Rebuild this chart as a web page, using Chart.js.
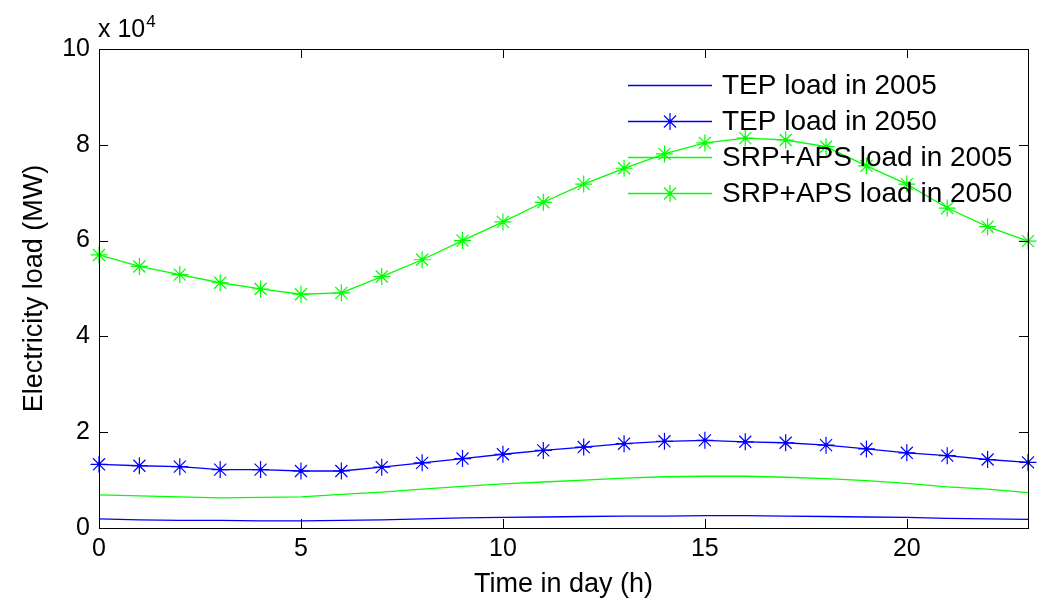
<!DOCTYPE html>
<html>
<head>
<meta charset="utf-8">
<title>Electricity load</title>
<script src="https://cdn.jsdelivr.net/npm/chart.js@4/dist/chart.umd.min.js"></script>
<style>
    body { margin: 0; background: #fff; }
    #wrap { width: 1041px; height: 604px; }
</style>
</head>
<body>
<div id="wrap"><canvas id="loadChart" width="1041" height="604"></canvas></div>
<script>
// Hourly loads (MW)
const hours = [0, 1, 2, 3, 4, 5, 6, 7, 8, 9, 10, 11, 12, 13, 14, 15, 16, 17, 18, 19, 20, 21, 22, 23];

const tep2005 = [1900, 1700, 1600, 1600, 1500, 1500, 1600, 1700, 1900, 2100, 2200, 2300,
                 2400, 2500, 2500, 2600, 2600, 2500, 2400, 2300, 2200, 2000, 1900, 1800];
const tep2050 = [13300, 13000, 12800, 12200, 12200, 11900, 11900, 12700, 13600, 14500, 15400, 16200,
                 16900, 17600, 18100, 18300, 18000, 17800, 17300, 16500, 15700, 15100, 14300, 13700];
const srp2005 = [6900, 6700, 6500, 6300, 6400, 6500, 7000, 7500, 8100, 8700, 9200, 9600,
                 10000, 10400, 10700, 10800, 10800, 10600, 10300, 9900, 9300, 8600, 8100, 7400];
const srp2050 = [57000, 54600, 52900, 51200, 49900, 48800, 49100, 52500, 56000, 60000, 63900, 68000,
                 71800, 75100, 78100, 80400, 81400, 81000, 79600, 75600, 71800, 66800, 62900, 59900];

const seriesLabels = ['TEP load in 2005', 'TEP load in 2050', 'SRP+APS load in 2005', 'SRP+APS load in 2050'];
const xTitle = 'Time in day (h)';
const yTitle = 'Electricity load (MW)';
const yExponent = '4';

const BLUE = '#0000ff';
const GREEN = '#00ff00';
const FONT = "'Liberation Sans', Arial, sans-serif";

function toPoints(values) {
    return hours.map((h, i) => ({ x: h, y: values[i] }));
}

function lineSet(label, values, color, star) {
    return {
        label: label,
        data: toPoints(values),
        borderColor: color,
        backgroundColor: color,
        borderWidth: 1.3,
        tension: 0,
        pointStyle: star ? 'star' : 'circle',
        pointRadius: star ? 8.5 : 0,
        pointBorderWidth: 1.2,
        pointBorderColor: color,
        clip: false,
        star: star
    };
}

// MATLAB-style frame with inward ticks on all four sides
const framePlugin = {
    id: 'frame',
    afterDraw(chart) {
        const { ctx, chartArea: a, scales } = chart;
        const len = 9;
        ctx.save();
        ctx.strokeStyle = '#000';
        ctx.lineWidth = 1;
        ctx.strokeRect(Math.round(a.left) + 0.5, Math.round(a.top) + 0.5,
                       Math.round(a.right - a.left), Math.round(a.bottom - a.top));
        ctx.beginPath();
        scales.x.ticks.forEach(t => {
            const px = Math.round(scales.x.getPixelForValue(t.value)) + 0.5;
            ctx.moveTo(px, a.bottom); ctx.lineTo(px, a.bottom - len);
            ctx.moveTo(px, a.top); ctx.lineTo(px, a.top + len);
        });
        scales.y.ticks.forEach(t => {
            const py = Math.round(scales.y.getPixelForValue(t.value)) + 0.5;
            ctx.moveTo(a.left, py); ctx.lineTo(a.left + len, py);
            ctx.moveTo(a.right, py); ctx.lineTo(a.right - len, py);
        });
        ctx.stroke();

        // exponent label above the y axis
        ctx.fillStyle = '#000';
        ctx.textBaseline = 'alphabetic';
        ctx.textAlign = 'left';
        ctx.font = '25px ' + FONT;
        ctx.fillText('x 10', a.left - 1, a.top - 12);
        const w = ctx.measureText('x 10').width;
        ctx.font = '17px ' + FONT;
        ctx.fillText(yExponent, a.left - 1 + w + 1, a.top - 22);
        ctx.restore();
    }
};

// small dots in the middle of the star markers
const starDotPlugin = {
    id: 'starDots',
    afterDatasetsDraw(chart) {
        const ctx = chart.ctx;
        ctx.save();
        chart.data.datasets.forEach((ds, i) => {
            if (!ds.star) return;
            ctx.fillStyle = ds.borderColor;
            chart.getDatasetMeta(i).data.forEach(p => {
                ctx.beginPath();
                ctx.arc(p.x, p.y, 2, 0, Math.PI * 2);
                ctx.fill();
            });
        });
        ctx.restore();
    }
};

// legend inside the plot, no box, line + marker sample
const legendPlugin = {
    id: 'insideLegend',
    afterDraw(chart) {
        const { ctx, chartArea: a } = chart;
        const x0 = a.right - 400;
        const x1 = a.right - 316;
        ctx.save();
        ctx.font = '28px ' + FONT;
        ctx.textBaseline = 'middle';
        ctx.textAlign = 'left';
        chart.data.datasets.forEach((ds, i) => {
            const y = a.top + 36 + i * 36;
            ctx.strokeStyle = ds.borderColor;
            ctx.lineWidth = 1.3;
            ctx.beginPath();
            ctx.moveTo(x0, y + 0.5);
            ctx.lineTo(x1, y + 0.5);
            ctx.stroke();
            if (ds.star) {
                ctx.lineWidth = 1.2;
                Chart.helpers.drawPoint(ctx, { pointStyle: 'star', radius: 8.5, borderWidth: 1.2 }, (x0 + x1) / 2, y + 0.5);
                ctx.fillStyle = ds.borderColor;
                ctx.beginPath();
                ctx.arc((x0 + x1) / 2, y + 0.5, 2, 0, Math.PI * 2);
                ctx.fill();
            }
            ctx.fillStyle = '#000';
            ctx.fillText(ds.label, x1 + 10, y + 1);
        });
        ctx.restore();
    }
};

const ctx = document.getElementById('loadChart').getContext('2d');
new Chart(ctx, {
    type: 'line',
    data: {
        datasets: [
            lineSet(seriesLabels[0], tep2005, BLUE, false),
            lineSet(seriesLabels[1], tep2050, BLUE, true),
            lineSet(seriesLabels[2], srp2005, GREEN, false),
            lineSet(seriesLabels[3], srp2050, GREEN, true)
        ]
    },
    options: {
        responsive: false,
        animation: false,
        layout: { padding: { top: 49, right: 13, left: 0, bottom: 0 } },
        plugins: {
            legend: { display: false },
            tooltip: { enabled: false }
        },
        scales: {
            x: {
                type: 'linear',
                min: 0,
                max: 23,
                grid: { display: false, drawTicks: false },
                border: { display: false },
                ticks: {
                    stepSize: 5,
                    includeBounds: false,
                    maxRotation: 0,
                    padding: 6,
                    color: '#000',
                    font: { family: FONT, size: 25 }
                },
                title: {
                    display: true,
                    text: xTitle,
                    color: '#000',
                    font: { family: FONT, size: 27, lineHeight: 1.2 },
                    padding: { top: 0, bottom: 3 }
                },
                afterFit(scale) { scale.height = 76; }
            },
            y: {
                min: 0,
                max: 100000,
                grid: { display: false, drawTicks: false },
                border: { display: false },
                ticks: {
                    stepSize: 20000,
                    padding: 9,
                    color: '#000',
                    font: { family: FONT, size: 25 },
                    callback: v => String(v / 10000)
                },
                title: {
                    display: true,
                    text: yTitle,
                    color: '#000',
                    font: { family: FONT, size: 27, lineHeight: 1.2 },
                    padding: { top: 18, bottom: 0 }
                },
                afterFit(scale) { scale.width = 99; }
            }
        }
    },
    plugins: [framePlugin, starDotPlugin, legendPlugin]
});
</script>
</body>
</html>
